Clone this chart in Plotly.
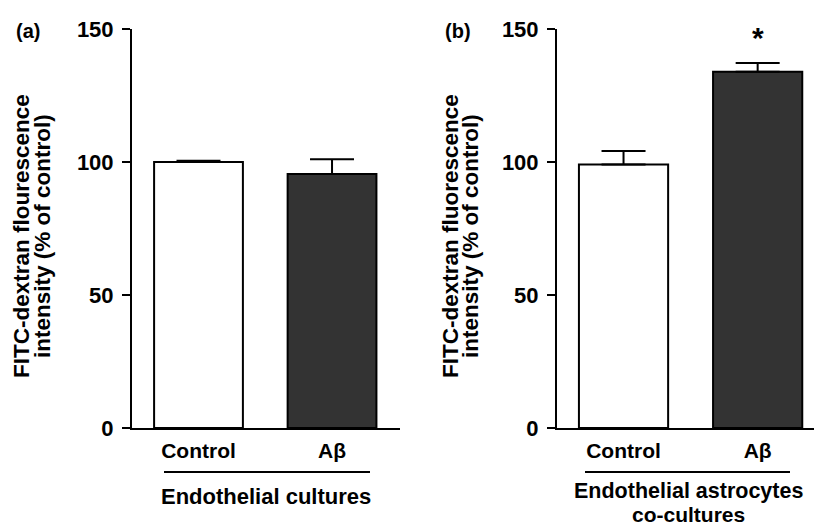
import plotly.graph_objects as go

W, H = 814, 527

categories = ["Control", "Aβ"]
values_a = [100.0, 95.5]
errors_a = [0.5, 5.5]
values_b = [99.1, 133.9]
errors_b = [5.0, 3.3]
y_ticks = [0, 50, 100, 150]
ytitle_l1_a = "FITC-dextran flourescence"
ytitle_l1_b = "FITC-dextran fluorescence"
ytitle_l2 = "intensity (% of control)"
group_a = ["Endothelial cultures"]
group_b = ["Endothelial astrocytes", "co-cultures"]

FONT = "Liberation Sans, Arial, Helvetica, sans-serif"
fill_colors = ["white", "#333333"]

def px(xp):
    return xp / W

def py(yp):
    return (H - yp) / H

fig = go.Figure()

for vals, errs, xa, ya in [(values_a, errors_a, "x", "y"), (values_b, errors_b, "x2", "y2")]:
    fig.add_trace(go.Bar(
        x=categories, y=vals, xaxis=xa, yaxis=ya,
        marker=dict(color=fill_colors, line=dict(color="black", width=2)),
        error_y=dict(type="data", array=errs, arrayminus=[0, 0], symmetric=False,
                     color="black", thickness=2, width=22),
        width=0.665, showlegend=False, hoverinfo="skip",
    ))

yax = dict(range=[0, 150], tickvals=y_ticks, ticks="outside", ticklen=8, tickwidth=2,
           tickcolor="black", showline=True, linecolor="black", linewidth=2,
           showgrid=False, zeroline=False, automargin=False,
           tickfont=dict(family=FONT, size=22, color="black", weight="bold"),
           ticklabelstandoff=4)
xax = dict(type="category", showline=True, linecolor="black", linewidth=2,
           showgrid=False, zeroline=False, ticks="outside", ticklen=3, automargin=False,
           tickcolor="rgba(0,0,0,0)",
           tickfont=dict(family=FONT, size=21, color="black", weight="bold"))

y_dom = [py(428), py(29)]
fig.update_layout(
    width=W, height=H, margin=dict(l=0, r=0, t=0, b=0, autoexpand=False),
    paper_bgcolor="white", plot_bgcolor="white",
    xaxis=dict(xax, domain=[px(132), px(400)], range=[-0.498, 1.509], anchor="y"),
    yaxis=dict(yax, domain=y_dom, anchor="x"),
    xaxis2=dict(xax, domain=[px(557), px(814)], range=[-0.496, 1.42], anchor="y2"),
    yaxis2=dict(yax, domain=y_dom, anchor="x2"),
)

anns = []
def txt(text, x, y, size=22, angle=0):
    anns.append(dict(text=text, x=px(x), y=py(y), xref="paper", yref="paper",
                     showarrow=False, xanchor="center", yanchor="middle", textangle=angle,
                     font=dict(family=FONT, size=size, color="black", weight="bold")))

txt("(a)", 28, 31, size=20)
txt("(b)", 458, 31, size=20)
txt(ytitle_l1_a, 21, 236, size=22.5, angle=-90)
txt(ytitle_l2, 42, 236, size=22.5, angle=-90)
txt(ytitle_l1_b, 450, 236, size=22.5, angle=-90)
txt(ytitle_l2, 470, 236, size=22.5, angle=-90)
txt(group_a[0], 266, 496)
txt(group_b[0], 688, 491, size=21.5)
txt(group_b[1], 688, 514, size=21)

anns.append(dict(text="*", x="Aβ", y=140, xref="x2", yref="y2", showarrow=False,
                 xanchor="center", yanchor="bottom",
                 font=dict(family=FONT, size=30, color="black", weight="bold")))
fig.update_layout(annotations=anns)

fig.add_shape(type="line", xref="paper", yref="paper", x0=px(164), x1=px(370),
              y0=py(472), y1=py(472), line=dict(color="black", width=2))
fig.add_shape(type="line", xref="paper", yref="paper", x0=px(585), x1=px(790),
              y0=py(472), y1=py(472), line=dict(color="black", width=2))

fig.write_html("out.html", config={"displayModeBar": False, "staticPlot": True},
               post_script="document.body.style.margin='0';document.body.style.overflow='hidden';")
